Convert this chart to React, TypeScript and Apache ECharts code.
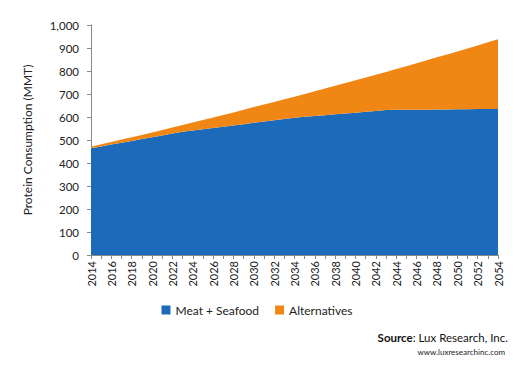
import React, { useEffect, useRef } from "react";
import * as echarts from "echarts";

const years = [
  "2014","2015","2016","2017","2018","2019","2020","2021","2022","2023",
  "2024","2025","2026","2027","2028","2029","2030","2031","2032","2033",
  "2034","2035","2036","2037","2038","2039","2040","2041","2042","2043",
  "2044","2045","2046","2047","2048","2049","2050","2051","2052","2053","2054",
];

const meatSeafood = [
  464, 472, 480, 488, 496, 504, 512, 520, 528, 536,
  541, 547, 552, 558, 563, 569, 575, 580, 586, 591,
  597, 601, 604, 608, 612, 615, 619, 623, 626, 630,
  631, 631, 632, 632, 633, 633, 634, 634, 635, 635, 635,
];

const alternatives = [
  7, 9, 11, 14, 16, 18, 21, 23, 26, 29,
  35, 40, 46, 51, 57, 62, 68, 74, 79, 86,
  91, 99, 108, 116, 124, 133, 141, 149, 158, 166,
  178, 190, 202, 215, 227, 239, 251, 264, 276, 290, 303,
];

const FONT = "Lato, 'Open Sans', sans-serif";

export default function App() {
  const ref = useRef<HTMLDivElement>(null);
  useEffect(() => {
    document.body.style.margin = "0";
    if (!ref.current) return;
    const chart = echarts.init(ref.current, null, { renderer: "svg" });
    chart.setOption({
      animation: false,
      textStyle: { fontFamily: FONT },
      grid: { left: 91, right: 16, top: 25, bottom: 112, containLabel: false },
      legend: {
        bottom: 46,
        left: "center",
        itemWidth: 9,
        itemHeight: 9,
        itemGap: 16,
        icon: "rect",
        textStyle: { fontFamily: FONT, fontSize: 12, color: "#222" },
        data: ["Meat + Seafood", "Alternatives"],
      },
      xAxis: {
        type: "category",
        data: years,
        boundaryGap: false,
        axisLine: { lineStyle: { color: "#888", width: 1 } },
        axisTick: { show: true, interval: 0, length: 4, lineStyle: { color: "#888" } },
        axisLabel: {
          interval: 1,
          rotate: 90,
          fontSize: 11,
          color: "#222",
          fontFamily: FONT,
          margin: 6,
        },
      },
      yAxis: {
        type: "value",
        min: 0,
        max: 1000,
        interval: 100,
        name: "Protein Consumption (MMT)",
        nameLocation: "middle",
        nameGap: 58,
        nameTextStyle: { fontFamily: FONT, fontSize: 12, color: "#222" },
        axisLine: { show: true, lineStyle: { color: "#888", width: 1 } },
        axisTick: { show: true, length: 4, lineStyle: { color: "#888" } },
        splitLine: { show: false },
        axisLabel: {
          fontSize: 11.5,
          color: "#222",
          fontFamily: FONT,
          margin: 12,
          formatter: (v: number) => v.toLocaleString("en-US"),
        },
      },
      series: [
        {
          name: "Meat + Seafood",
          type: "line",
          stack: "total",
          data: meatSeafood,
          symbol: "none",
          lineStyle: { width: 0 },
          areaStyle: { color: "#1c6bbb", opacity: 1 },
          itemStyle: { color: "#1c6bbb" },
        },
        {
          name: "Alternatives",
          type: "line",
          stack: "total",
          data: alternatives,
          symbol: "none",
          lineStyle: { width: 0 },
          areaStyle: { color: "#f08714", opacity: 1 },
          itemStyle: { color: "#f08714" },
        },
      ],
      graphic: [
        {
          type: "text",
          right: 6,
          top: 331,
          style: {
            rich: {
              b: { fontFamily: FONT, fontSize: 11.5, fontWeight: "bold", fill: "#111" },
              n: { fontFamily: FONT, fontSize: 11.5, fill: "#111" },
            },
            text: "{b|Source}{n|: Lux Research, Inc.}",
          },
        },
        {
          type: "text",
          right: 9,
          top: 348,
          style: { text: "www.luxresearchinc.com", fontFamily: FONT, fontSize: 8, fill: "#222" },
        },
      ],
    });
    return () => chart.dispose();
  }, []);
  return <div ref={ref} style={{ width: 514, height: 367 }} />;
}
